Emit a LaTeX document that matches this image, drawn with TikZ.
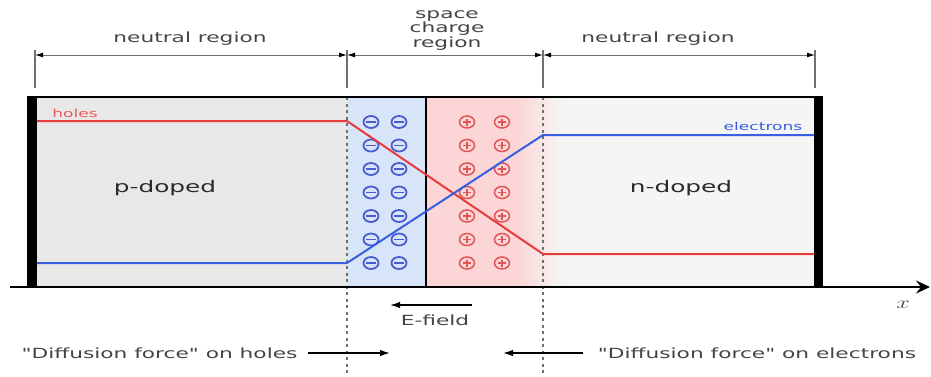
\documentclass[tikz,border=0pt]{standalone}
\usepackage{fontspec}
\usepackage{graphicx}
\newfontfamily\dejav{DejaVu Sans}[FakeStretch=1.55]
\usetikzlibrary{arrows.meta}
\definecolor{txt}{HTML}{444444}
\definecolor{dark}{HTML}{2A2A2A}
\definecolor{leftbg}{HTML}{E8E8E8}
\definecolor{rightbg}{HTML}{F5F5F5}
\definecolor{bluebg}{HTML}{D8E5F8}
\definecolor{redbg}{HTML}{FCD6D6}
\definecolor{holecol}{HTML}{E63C3C}
\definecolor{eleccol}{HTML}{3A5EE0}
\definecolor{minuscol}{HTML}{4A5AD0}
\definecolor{pluscol}{HTML}{E25555}
\definecolor{dimcol}{HTML}{707070}
\tikzset{
  lbl/.style={text=txt, anchor=base, inner sep=0pt, font=\dejav\fontsize{14}{14}\selectfont},
  dimline/.style={draw=dimcol, line width=1pt, {Latex[length=8pt,width=5pt,black]}-{Latex[length=8pt,width=5pt,black]}},
  tickline/.style={draw=dimcol, line width=1.2pt},
  dashline/.style={draw=dimcol, line width=1.5pt, dash pattern=on 3pt off 3.5pt},
  forcearrow/.style={draw=black, line width=1.4pt, -{Latex[length=10pt,width=6.5pt]}},
  minussym/.style={draw=minuscol, line width=1.8pt},
  plussym/.style={draw=pluscol, line width=1.5pt},
}
\begin{document}
\begin{tikzpicture}[x=1pt,y=-1pt]
\useasboundingbox (0,0) rectangle (931,376);
% backgrounds
\fill[leftbg] (37,97) rectangle (347,287);
\fill[rightbg] (543,97) rectangle (814,287);
\fill[bluebg] (347,97) rectangle (426,287);
\fill[redbg] (426,97) rectangle (518,287);
\shade[left color=redbg, right color=rightbg] (518,97) rectangle (562,287);
% dimension ticks
\coordinate (a1) at (35,50);  \coordinate (a2) at (35,88);
\coordinate (b1) at (347,50); \coordinate (b2) at (347,88);
\coordinate (c1) at (543,50); \coordinate (c2) at (543,88);
\coordinate (d1) at (815,50); \coordinate (d2) at (815,88);
\draw[tickline] (a1) -- (a2);
\draw[tickline] (b1) -- (b2);
\draw[tickline] (c1) -- (c2);
\draw[tickline] (d1) -- (d2);
\coordinate (p1) at (35,55); \coordinate (p2) at (347,55);
\coordinate (p3) at (543,55); \coordinate (p4) at (815,55);
\draw[dimline] (p1) -- (p2);
\draw[dimline] (p2) -- (p3);
\draw[dimline] (p3) -- (p4);
\node[lbl] (nl) at (190,42) {neutral region};
\node[lbl, align=center, anchor=north, font=\dejav\fontsize{14}{12.5}\selectfont] (sc) at (447,10) {space\\charge\\region};
\node[lbl] (nr) at (658,42) {neutral region};
% dashed boundaries
\coordinate (e1) at (347,97); \coordinate (e2) at (347,376);
\coordinate (f1) at (543,97); \coordinate (f2) at (543,376);
\draw[dashline] (e1) -- (e2);
\draw[dashline] (f1) -- (f2);
% junction
\coordinate (j1) at (426,97); \coordinate (j2) at (426,287);
\draw[black, line width=2pt] (j1) -- (j2);
% charges
\foreach \yy in {122,145.5,169,192.5,216,239.5,263}{
  \foreach \xx in {371,399}{
    \draw[minussym] (\xx,\yy) ellipse [x radius=7.5pt, y radius=6pt];
    \draw[minussym] (\xx-5,\yy) -- (\xx+5,\yy);
  }
  \foreach \xx in {467,502}{
    \draw[plussym] (\xx,\yy) ellipse [x radius=7.5pt, y radius=6pt];
    \draw[plussym, line width=1.1pt] (\xx-4,\yy) -- (\xx+4,\yy);
    \draw[plussym, line width=1.1pt] (\xx,\yy-3.5) -- (\xx,\yy+3.5);
  }
}
% carrier curves
\coordinate (h0) at (37,121); \coordinate (h1) at (347,121);
\coordinate (h2) at (543,254); \coordinate (h3) at (814,254);
\draw[holecol, line width=2pt] (h0) -- (h1) -- (h2) -- (h3);
\coordinate (n0) at (37,263); \coordinate (n1) at (347,263);
\coordinate (n2) at (543,135); \coordinate (n3) at (814,135);
\draw[eleccol, line width=2pt] (n0) -- (n1) -- (n2) -- (n3);
\node[lbl, text=holecol!85!white, font=\dejav\fontsize{11}{11}\selectfont] (hl) at (75,117) {holes};
\node[lbl, text=eleccol, font=\dejav\fontsize{11}{11}\selectfont] (el) at (763,130) {electrons};
\node[lbl, text=dark, font=\dejav\fontsize{16}{16}\selectfont] (pd) at (165,192) {p-doped};
\node[lbl, text=dark, font=\dejav\fontsize{16}{16}\selectfont] (nd) at (681,192) {n-doped};
% box
\coordinate (bl) at (27,97); \coordinate (br) at (823,97);
\draw[black, line width=2.2pt] (bl) -- (br);
\fill[black] (27,96) rectangle (37,288);
\fill[black] (814,96) rectangle (823,288);
% axis
\coordinate (x0) at (10,287); \coordinate (x1) at (930,287);
\draw[black, line width=2.5pt, -{Stealth[length=14pt,width=13pt,inset=5pt]}] (x0) -- (x1);
\node[anchor=base, inner sep=0pt, text=txt, font=\fontsize{17}{17}\selectfont] (xl) at (903,308) {\scalebox{1.4}[1]{$x$}};
% E-field
\coordinate (ef0) at (472,305); \coordinate (ef1) at (390,305);
\draw[forcearrow] (ef0) -- (ef1);
\node[lbl] (efl) at (435,325) {E-field};
% diffusion forces
\node[lbl] (dh) at (159.5,358) {"Diffusion force" on holes};
\coordinate (dh0) at (308,353); \coordinate (dh1) at (390,353);
\draw[forcearrow] (dh0) -- (dh1);
\node[lbl] (de) at (757,358) {"Diffusion force" on electrons};
\coordinate (de0) at (583,353); \coordinate (de1) at (503,353);
\draw[forcearrow] (de0) -- (de1);
\end{tikzpicture}
\end{document}
